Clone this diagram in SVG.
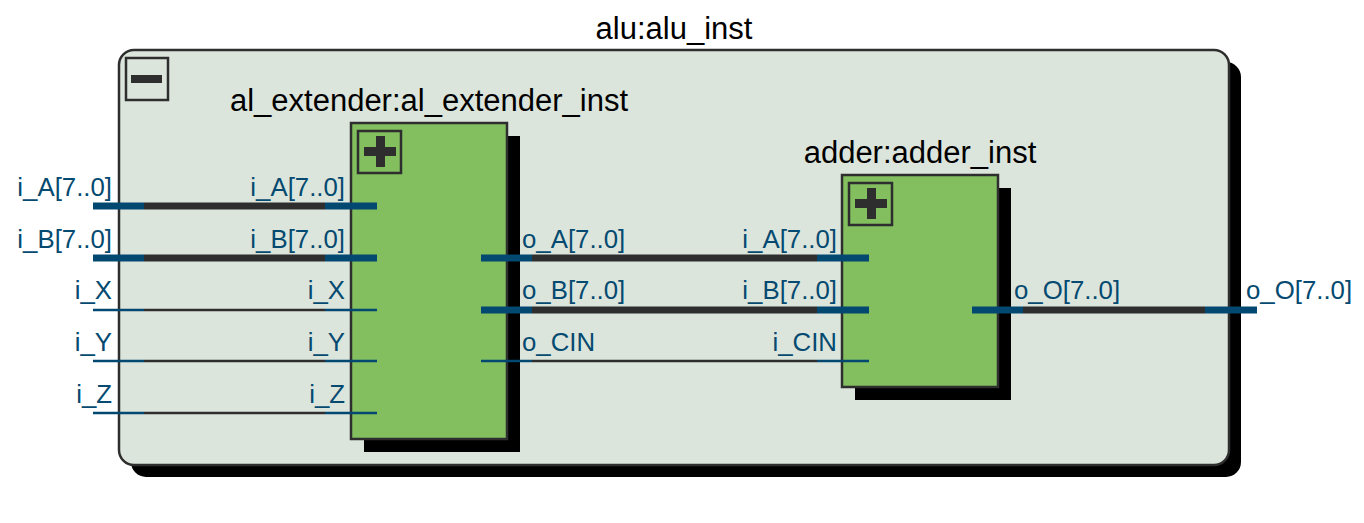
<svg xmlns="http://www.w3.org/2000/svg" width="1364" height="523" viewBox="0 0 1364 523">
<style>
.title{font-family:"Liberation Sans",Arial,sans-serif;font-size:31px;fill:#000;text-anchor:middle}
.lbl{font-family:"Liberation Sans",Arial,sans-serif;font-size:25.8px;fill:#054a70}
.r{text-anchor:end}
.shadow{fill:#000}
.blk{fill:#83bf5f;stroke:#2e2e2e;stroke-width:2.5}
.pinb{stroke:#034870;stroke-width:7}
.pint{stroke:#034870;stroke-width:2.5}
.netb{stroke:#2e2e2e;stroke-width:7}
.nett{stroke:#2e2e2e;stroke-width:2.5}
.icon{fill:none;stroke:#2e2e2e;stroke-width:2.5}
.bar{fill:#2e2e2e}
</style>
<rect width="1364" height="523" fill="#fff"/>
<g id="alu_inst">
  <rect class="shadow" x="131" y="62" width="1110" height="415" rx="15"/>
  <rect x="119" y="50" width="1110" height="415" rx="15" fill="#dce5dc" stroke="#2e2e2e" stroke-width="2.5"/>
  <text class="title" x="674" y="39">alu:alu_inst</text>
  <rect class="icon" x="126" y="58" width="42" height="42"/>
  <rect class="bar" x="131" y="75" width="31" height="8"/>
  <line class="pinb" x1="93" y1="206" x2="144" y2="206"/>
  <line class="pinb" x1="93" y1="258" x2="144" y2="258"/>
  <line class="pint" x1="93" y1="310" x2="144" y2="310"/>
  <line class="pint" x1="93" y1="361" x2="144" y2="361"/>
  <line class="pint" x1="93" y1="413" x2="144" y2="413"/>
  <line class="pinb" x1="1205" y1="310" x2="1257" y2="310"/>
  <text class="lbl r" x="112" y="196">i_A[7..0]</text>
  <text class="lbl r" x="112" y="248">i_B[7..0]</text>
  <text class="lbl r" x="112" y="299">i_X</text>
  <text class="lbl r" x="112" y="351">i_Y</text>
  <text class="lbl r" x="112" y="403">i_Z</text>
  <text class="lbl" x="1246" y="299">o_O[7..0]</text>
</g>
<g id="connectors">
  <line class="netb" x1="144" y1="206" x2="325" y2="206"/>
  <line class="netb" x1="144" y1="258" x2="325" y2="258"/>
  <line class="nett" x1="144" y1="310" x2="325" y2="310"/>
  <line class="nett" x1="144" y1="361" x2="325" y2="361"/>
  <line class="nett" x1="144" y1="413" x2="325" y2="413"/>
  <line class="netb" x1="532" y1="258" x2="817" y2="258"/>
  <line class="netb" x1="532" y1="310" x2="817" y2="310"/>
  <line class="nett" x1="532" y1="361" x2="817" y2="361"/>
  <line class="netb" x1="1023" y1="310" x2="1205" y2="310"/>
</g>
<g id="al_extender_inst">
  <rect class="shadow" x="364" y="136" width="156" height="316"/>
  <rect class="blk" x="351" y="123" width="156" height="316"/>
  <text class="title" x="429" y="111">al_extender:al_extender_inst</text>
  <rect class="icon" x="358" y="131" width="43" height="42"/>
  <rect class="bar" x="364" y="147" width="32" height="9"/>
  <rect class="bar" x="376" y="136" width="9" height="31"/>
  <line class="pinb" x1="325" y1="206" x2="377" y2="206"/>
  <line class="pinb" x1="325" y1="258" x2="377" y2="258"/>
  <line class="pint" x1="325" y1="310" x2="377" y2="310"/>
  <line class="pint" x1="325" y1="361" x2="377" y2="361"/>
  <line class="pint" x1="325" y1="413" x2="377" y2="413"/>
  <line class="pinb" x1="481" y1="258" x2="532" y2="258"/>
  <line class="pinb" x1="481" y1="310" x2="532" y2="310"/>
  <line class="pint" x1="481" y1="361" x2="532" y2="361"/>
  <text class="lbl r" x="345" y="196">i_A[7..0]</text>
  <text class="lbl r" x="345" y="248">i_B[7..0]</text>
  <text class="lbl r" x="345" y="299">i_X</text>
  <text class="lbl r" x="345" y="351">i_Y</text>
  <text class="lbl r" x="345" y="403">i_Z</text>
  <text class="lbl" x="522" y="248">o_A[7..0]</text>
  <text class="lbl" x="522" y="299">o_B[7..0]</text>
  <text class="lbl" x="522" y="351">o_CIN</text>
</g>
<g id="adder_inst">
  <rect class="shadow" x="855" y="188" width="156" height="212"/>
  <rect class="blk" x="842" y="175" width="156" height="212"/>
  <text class="title" x="920" y="163">adder:adder_inst</text>
  <rect class="icon" x="849" y="183" width="43" height="42"/>
  <rect class="bar" x="855" y="199" width="32" height="9"/>
  <rect class="bar" x="867" y="188" width="9" height="31"/>
  <line class="pinb" x1="817" y1="258" x2="869" y2="258"/>
  <line class="pinb" x1="817" y1="310" x2="869" y2="310"/>
  <line class="pint" x1="817" y1="361" x2="869" y2="361"/>
  <line class="pinb" x1="972" y1="310" x2="1023" y2="310"/>
  <text class="lbl r" x="837" y="248">i_A[7..0]</text>
  <text class="lbl r" x="837" y="299">i_B[7..0]</text>
  <text class="lbl r" x="837" y="351">i_CIN</text>
  <text class="lbl" x="1014" y="299">o_O[7..0]</text>
</g>
</svg>
